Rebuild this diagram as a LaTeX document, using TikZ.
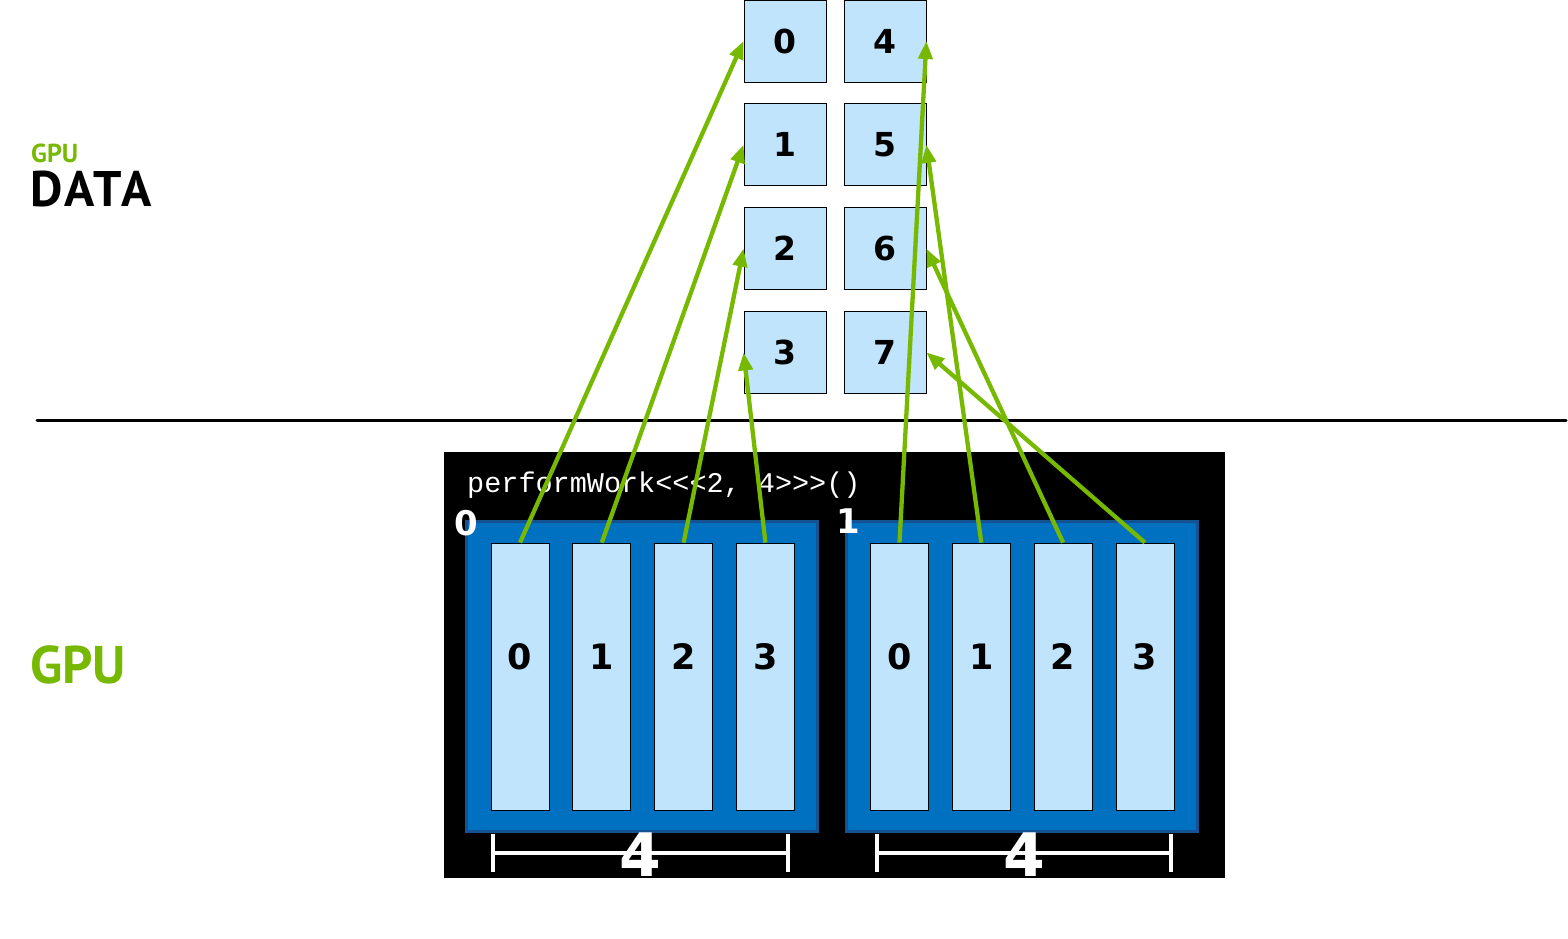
\documentclass[tikz,border=0pt]{standalone}
\usepackage{fontspec}
\usepackage{tikz}
\usetikzlibrary{arrows.meta,positioning}
\newfontfamily\cellfont{DejaVu Sans}
\newfontfamily\titlefont{PT Sans}
\newfontfamily\codefont{Liberation Mono}
\definecolor{gpugreen}{RGB}{118,185,0}
\definecolor{gpublue}{RGB}{0,112,192}
\definecolor{gpuedge}{RGB}{20,82,145}
\definecolor{gpucell}{RGB}{191,228,251}
\tikzset{
  datacell/.style={draw=black, line width=0.8pt, fill=gpucell,
    minimum width=82pt, minimum height=82pt, inner sep=0pt,
    font=\cellfont\bfseries\fontsize{33}{33}\selectfont},
  threadcell/.style={draw=black, line width=0.8pt, fill=gpucell,
    minimum width=58pt, minimum height=267pt, inner sep=0pt},
  threadnum/.style={inner sep=0pt, yshift=20pt,
    font=\cellfont\bfseries\fontsize{35}{35}\selectfont},
  blockcard/.style={draw=gpuedge, line width=3pt, fill=gpublue,
    minimum width=351pt, minimum height=310pt, inner sep=0pt},
  blocknum/.style={text=white, inner sep=0pt,
    font=\cellfont\bfseries\fontsize{34}{34}\selectfont},
  workarrow/.style={-{Triangle[length=18pt,width=14pt]}, line width=4.3pt, gpugreen},
  spanbar/.style={{Bar[width=38pt]}-{Bar[width=38pt]}, line width=4pt, white},
  spannum/.style={text=white, inner sep=0pt, yshift=-2pt,
    font=\cellfont\bfseries\fontsize{60}{60}\selectfont},
}
\begin{document}
\begin{tikzpicture}[x=1pt, y=-1pt]
  \useasboundingbox (0,0) rectangle (1568,938);

  % side titles
  \node[anchor=base west, inner sep=0pt, text=gpugreen,
    font=\titlefont\bfseries\fontsize{26}{26}\selectfont] (datatag) at (31,162) {GPU};
  \node[anchor=base west, inner sep=0pt,
    font=\titlefont\bfseries\fontsize{50}{50}\selectfont\addfontfeature{LetterSpace=6}]
    (datatitle) at (30,206) {DATA};
  \node[anchor=base west, inner sep=0pt, text=gpugreen,
    font=\titlefont\bfseries\fontsize{53}{53}\selectfont] (gputitle) at (30,683) {GPU};

  % data array
  \node[datacell] (d0) at (785,41) {0};
  \node[datacell, below=21pt of d0] (d1) {1};
  \node[datacell, below=21pt of d1] (d2) {2};
  \node[datacell, below=21pt of d2] (d3) {3};
  \node[datacell] (d4) at (885,41) {4};
  \node[datacell, below=21pt of d4] (d5) {5};
  \node[datacell, below=21pt of d5] (d6) {6};
  \node[datacell, below=21pt of d6] (d7) {7};

  \coordinate (sepL) at (37,420);
  \coordinate (sepR) at (1566,420);
  \draw[line width=3pt, line cap=round] (sepL) -- (sepR);

  % kernel launch
  \node[fill=black, minimum width=781pt, minimum height=426pt, inner sep=0pt] (grid) at (834.5,665) {};
  \node[anchor=base west, inner sep=0pt, text=white,
    font=\codefont\fontsize{28.5}{28.5}\selectfont] (launch) at (467,492)
    {performWork<{}<{}<2, 4>{}>{}>()};

  \node[blockcard] (blk0) at (641.5,676) {};
  \node[blockcard] (blk1) at (1021.5,676) {};
  \node[blocknum] (blk0num) at (466,523) {0};
  \node[blocknum] (blk1num) at (848,521) {1};

  \node[threadcell, label={[threadnum]center:0}] (b0t0) at (520,676.5) {};
  \node[threadcell, right=23pt of b0t0, label={[threadnum]center:1}] (b0t1) {};
  \node[threadcell, right=23pt of b0t1, label={[threadnum]center:2}] (b0t2) {};
  \node[threadcell, right=23pt of b0t2, label={[threadnum]center:3}] (b0t3) {};
  \node[threadcell, label={[threadnum]center:0}] (b1t0) at (899.5,676.5) {};
  \node[threadcell, right=23pt of b1t0, label={[threadnum]center:1}] (b1t1) {};
  \node[threadcell, right=23pt of b1t1, label={[threadnum]center:2}] (b1t2) {};
  \node[threadcell, right=23pt of b1t2, label={[threadnum]center:3}] (b1t3) {};

  % block width
  \coordinate (span0l) at (491,853);
  \coordinate (span0r) at (790,853);
  \coordinate (span1l) at (875,853);
  \coordinate (span1r) at (1173,853);
  \draw[spanbar] (span0l) -- node[spannum] (span0num) {4} (span0r);
  \draw[spanbar] (span1l) -- node[spannum] (span1num) {4} (span1r);

  % thread -> element
  \draw[workarrow] (b0t0.north) -- (d0.west);
  \draw[workarrow] (b0t1.north) -- (d1.west);
  \draw[workarrow] (b0t2.north) -- (d2.west);
  \draw[workarrow] (b0t3.north) -- (d3.west);
  \draw[workarrow] (b1t0.north) -- (d4.east);
  \draw[workarrow] (b1t1.north) -- (d5.east);
  \draw[workarrow] (b1t2.north) -- (d6.east);
  \draw[workarrow] (b1t3.north) -- (d7.east);
\end{tikzpicture}
\end{document}
